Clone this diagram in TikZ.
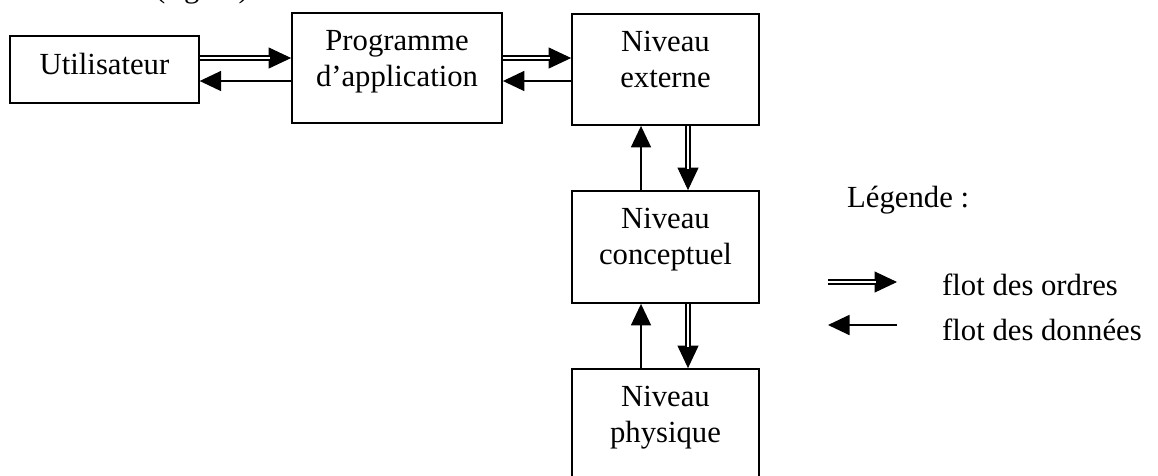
\documentclass[tikz,border=0pt]{standalone}
\usepackage{fontspec}
\setmainfont{Liberation Serif}
\usetikzlibrary{arrows.meta,calc}

\tikzset{
  txt/.style={font=\fontsize{30.7pt}{36pt}\selectfont, inner sep=0pt, align=center},
  box/.style={draw, line width=1.8pt, inner sep=0pt, fill=none},
  % data flow: plain line with a solid head
  data/.style={line width=1.7pt, -{Triangle[length=21.5pt,width=20pt]}},
  % order flow: solid head on a double line
  order/.style={line width=1pt, -{Triangle[length=22.5pt,width=21pt]},
    postaction={draw, -, double=white, double distance=2.2pt, line width=1.8pt, shorten >=21.5pt}},
}

\begin{document}
\begin{tikzpicture}[x=1pt,y=-1pt]
\useasboundingbox (0,0) rectangle (1158,475);

% caption line above the diagram
\node[txt, anchor=base west] (cap) at (155,-3) {(figure)};

% boxes
\node[box, minimum width=188.5pt, minimum height=67pt]  (u)  at (104.5,69.5) {};
\node[box, minimum width=210pt,   minimum height=110pt] (p)  at (397,68)     {};
\node[box, minimum width=187pt,   minimum height=111pt] (e)  at (665.5,69.5) {};
\node[box, minimum width=187pt,   minimum height=112pt] (c)  at (665.5,247)  {};
\node[box, minimum width=187pt,   minimum height=111pt] (ph) at (665.5,424.5){};

% box texts
\node[txt, anchor=north] (ut)  at ([yshift=-18pt]u.north)  {Utilisateur};
\node[txt, anchor=north] (pt)  at ([yshift=-18pt]p.north)  {Programme\\d’application};
\node[txt, anchor=north] (et)  at ([yshift=-18pt]e.north)  {Niveau\\externe};
\node[txt, anchor=north] (ct)  at ([yshift=-18pt]c.north)  {Niveau\\conceptuel};
\node[txt, anchor=north] (pht) at ([yshift=-18pt]ph.north) {Niveau\\physique};

% horizontal flows
\draw[order] ([yshift=11.5pt]u.east) -- ([yshift=11.5pt]u.east -| p.west);
\draw[data]  ([yshift=-11.5pt]u.east -| p.west) -- ([yshift=-11.5pt]u.east);
\draw[order] ([yshift=11.5pt]e.west -| p.east) -- ([yshift=11.5pt]e.west);
\draw[data]  ([yshift=-11.5pt]e.west) -- ([yshift=-11.5pt]e.west -| p.east);

% vertical flows
\draw[order] ([xshift=22.5pt]e.south) -- ([xshift=22.5pt]c.north);
\draw[data]  ([xshift=-24.5pt]c.north) -- ([xshift=-24.5pt]e.south);
\draw[order] ([xshift=22.5pt]c.south) -- ([xshift=22.5pt]ph.north);
\draw[data]  ([xshift=-24.5pt]ph.north) -- ([xshift=-24.5pt]c.south);

% legend
\node[txt, anchor=base west] (leg) at (847,207) {Légende :};
\coordinate (o1) at (828,282);
\coordinate (o2) at (897,282);
\coordinate (d1) at (897,325);
\coordinate (d2) at (828,325);
\draw[order] (o1) -- (o2);
\draw[data]  (d1) -- (d2);
\node[txt, anchor=base west] (lo) at (942,295.5) {flot des ordres};
\node[txt, anchor=base west] (ld) at (942,340)   {flot des données};
\end{tikzpicture}
\end{document}
